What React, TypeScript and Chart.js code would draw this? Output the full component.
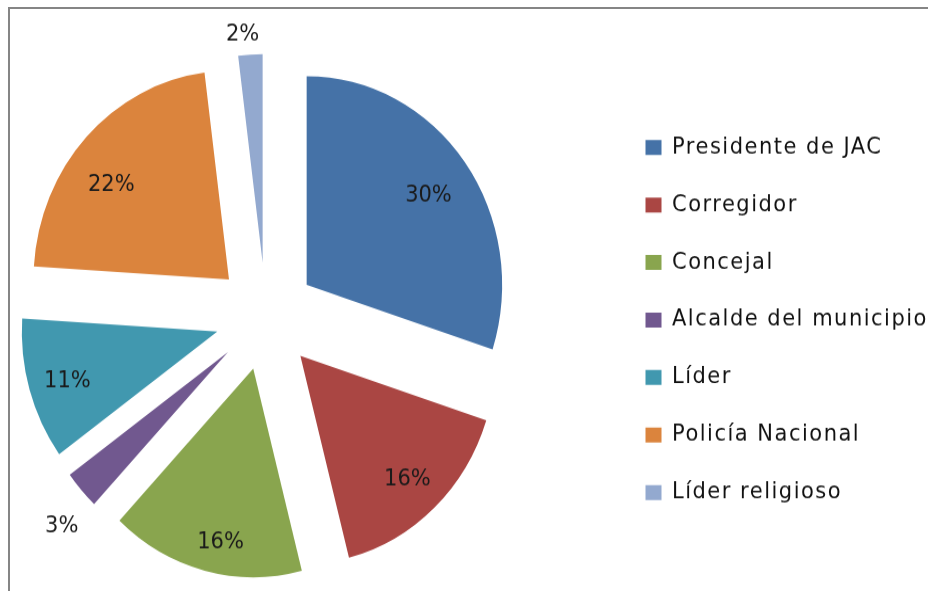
import React, { useEffect, useRef } from "react";
import { Chart, registerables } from "chart.js";

Chart.register(...registerables);

const categories = [
  "Presidente de JAC",
  "Corregidor",
  "Concejal",
  "Alcalde del municipio",
  "Líder",
  "Policía Nacional",
  "Líder religioso",
];
const percentages = [30, 16, 16, 3, 11, 22, 2];
const colors = ["#4572A7", "#AA4643", "#89A54E", "#71588F", "#4198AF", "#DB843D", "#93A9CF"];

// label placement: distance from the slice tip (fraction of radius) and
// position across the slice (0 = start edge, 1 = end edge)
const LABEL_RADIUS_FRAC = [0.76, 0.8, 0.84, 1.185, 0.8, 0.76, 1.107];
const LABEL_ANGLE_FRAC = [0.51, 0.5, 0.45, 0.31, 0.49, 0.43, 0.35];

const FONT = '"DejaVu Sans", sans-serif';
const FONT_SIZE = 21;
const LETTER_SPACING = "1.5px";
const W = 928;
const H = 591;
const SY = 0.9374; // the picture is slightly stretched vertically
const HC = Math.round(H * SY);
const EXPLODE = 50.5;
const RADIUS = 195.5;
const CENTER_X = 265.8;
const CENTER_Y = 296.65; // canvas units
const LEGEND_BOX_X = 645.5;
const LEGEND_PAD = 32.9;
const BOX_W = 16;
const BOX_H = 14;
const EXTRA_R = 30;
const TEXT_DY = 1.9;

const spacingPlugin = {
  id: "legendSpacing",
  beforeLayout(chart: any) {
    chart.ctx.letterSpacing = LETTER_SPACING;
  },
  beforeDraw(chart: any) {
    chart.ctx.letterSpacing = LETTER_SPACING;
  },
};

// Chart.js enlarges and narrows small exploded slices; undo that so every
// slice keeps its true angle and the same radius.
const explodeFix = {
  id: "explodeFix",
  afterDatasetUpdate(chart: any, args: any) {
    const meta = chart.getDatasetMeta(args.index);
    meta.data.forEach((arc: any) => {
      const t = (arc.options?.offset || 0) / 4;
      const fix = 1 - Math.sin(Math.min(Math.PI, arc.circumference || 0));
      const ro = t * fix;
      const R = arc.outerRadius;
      arc.outerRadius = R - ro;
      const delta = ro / Math.PI / R;
      arc.startAngle -= delta / 2;
      arc.endAngle += delta / 2;
    });
  },
};

const pctLabels = {
  id: "pctLabels",
  afterDatasetsDraw(chart: any) {
    const meta = chart.getDatasetMeta(0);
    const ctx = chart.ctx;
    ctx.save();
    ctx.letterSpacing = "0px";
    ctx.font = `${FONT_SIZE}px ${FONT}`;
    ctx.fillStyle = "#1a1a1a";
    ctx.textAlign = "center";
    ctx.textBaseline = "middle";
    meta.data.forEach((arc: any, i: number) => {
      const { x, y, startAngle, endAngle } = arc;
      const mid = (startAngle + endAngle) / 2;
      const t = (arc.options?.offset || 0) / 4;
      const sx = x + Math.cos(mid) * t;
      const sy = y + Math.sin(mid) * t;
      const a = startAngle + (endAngle - startAngle) * LABEL_ANGLE_FRAC[i];
      const d = RADIUS * LABEL_RADIUS_FRAC[i];
      ctx.fillText(`${percentages[i]}%`, sx + Math.cos(a) * d, sy + Math.sin(a) * d + TEXT_DY);
    });
    ctx.restore();
  },
};

export default function App() {
  const ref = useRef<HTMLCanvasElement | null>(null);

  const legendLeft = LEGEND_BOX_X - LEGEND_PAD;
  const shift = legendLeft - 2 * CENTER_X;
  const canvasW = Math.round(W + shift + EXTRA_R);

  useEffect(() => {
    if (!ref.current) return;
    const m = document.createElement("canvas").getContext("2d")! as any;
    m.font = `${FONT_SIZE}px ${FONT}`;
    m.letterSpacing = LETTER_SPACING;
    const textW = Math.max(...categories.map((c) => m.measureText(c).width));
    const legendWidth = LEGEND_PAD + BOX_W + FONT_SIZE / 2 + textW + 10;
    const padRight = canvasW - (legendLeft + shift) - legendWidth;
    const padTop = 2 * CENTER_Y - HC;

    const chart = new Chart(ref.current, {
      type: "pie",
      data: {
        labels: categories,
        datasets: [
          {
            data: percentages,
            backgroundColor: colors,
            borderWidth: 0,
            offset: EXPLODE * 4,
            hoverOffset: 0,
            radius: RADIUS,
          } as any,
        ],
      },
      options: {
        responsive: false,
        animation: false,
        devicePixelRatio: 1,
        layout: { padding: { left: 0, right: padRight, top: padTop, bottom: 0 } },
        plugins: {
          tooltip: { enabled: false },
          legend: {
            position: "right",
            align: "center",
            title: {
              display: true,
              text: "",
              font: { size: 1, lineHeight: 1 },
              padding: { top: 2 * TEXT_DY + 1.8, bottom: 0 },
            },
            labels: {
              boxWidth: BOX_W,
              boxHeight: BOX_H,
              padding: LEGEND_PAD,
              color: "#111111",
              font: { family: FONT, size: FONT_SIZE },
            },
          },
        },
      } as any,
      plugins: [spacingPlugin, explodeFix, pctLabels],
    });
    return () => chart.destroy();
  }, []);

  return (
    <div style={{ position: "fixed", left: 0, top: 0, width: W, height: H, overflow: "hidden", background: "#fff" }}>
      <div
        style={{
          position: "absolute",
          left: 8,
          top: 7,
          width: 1000,
          height: 1000,
          border: "2px solid #858585",
        }}
      />
      <canvas
        ref={ref}
        width={canvasW}
        height={HC}
        style={{ position: "absolute", left: -shift, top: 0, width: canvasW, height: H }}
      />
    </div>
  );
}
